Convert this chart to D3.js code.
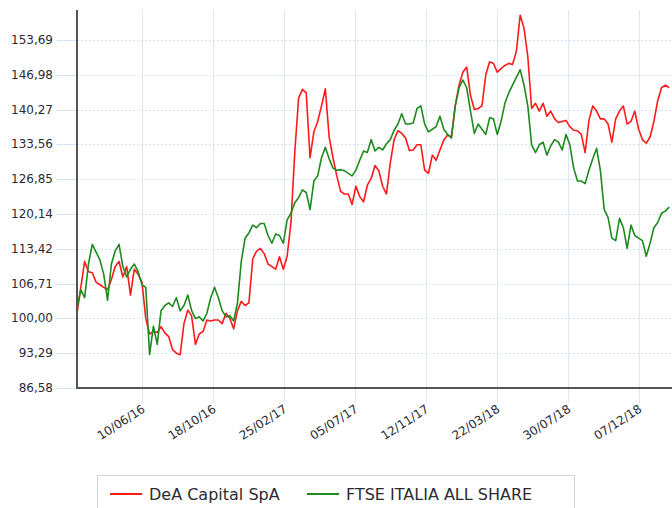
<!DOCTYPE html>
<html>
<head>
<meta charset="utf-8">
<script src="https://cdn.jsdelivr.net/npm/d3@7/dist/d3.min.js"></script>
<style>
  body { margin: 0; background: #fff; }
  svg { font-family: "DejaVu Sans", Verdana, sans-serif; }
  .ylab, .xlab { font-size: 12px; fill: #2b2b33; }
  .legend text { font-size: 16px; fill: #2b2b33; }
</style>
</head>
<body>
<script>
// weekly closes, rebased to 100
var seriesNames = ["DeA Capital SpA", "FTSE ITALIA ALL SHARE"];
var seriesColors = ["#ff1a1a", "#1e8a1e"];

var dea = [
  101, 106, 111, 109, 108.8, 107, 106.5, 106, 105.5, 107.5,
  110, 111, 108, 110, 104.5, 109.5, 108.5, 107, 100, 97,
  97.5, 97.3, 98.4, 97.2, 96.5, 94, 93.3, 93, 99, 101.6,
  100.5, 95, 97, 97.5, 99.7, 99.5, 99.7, 99.7, 99, 101,
  100, 98, 101.5, 103.3, 102.5, 103, 111.5, 113, 113.5, 112.5,
  110.5, 110, 109.5, 111.9, 109.5, 112, 118.5, 132, 142.5, 144.2,
  143.5, 131, 136, 138, 141, 144.3, 135, 131, 127.5, 124.5,
  124, 124, 122, 125.5, 123.5, 122.5, 125.7, 127, 129.5, 128.5,
  125.5, 124, 130, 134.5, 136.2, 135.7, 134.8, 132.4, 132.5, 133.5,
  133.5, 128.6, 128, 131.5, 130.5, 132.5, 134.4, 135.4, 135, 141,
  145, 147.5, 148.5, 143, 140.3, 140.5, 141, 147, 149.5, 149.2,
  147.5, 148.2, 148.8, 149.2, 149, 151.5, 158.5, 156, 150.5, 140.5,
  141.5, 140, 141.5, 139, 140, 138.5, 137.8, 138, 138.2, 137,
  136.3, 136.2, 135.5, 132, 138.2, 141, 140, 138.5, 138.5, 137.5,
  134, 138.5, 140, 141, 137.5, 138, 140, 136.5, 134.5, 133.8,
  135, 138, 142, 144.5, 145, 144.5
];

var ftse = [
  102, 105.5, 104, 110.5, 114.3, 112.8, 111.3, 108.5, 103.5, 110.5,
  113, 114.3, 110, 108, 109.5, 110.5, 109, 106.5, 106, 93,
  98.5, 95, 101.5, 102.5, 103, 102.3, 104, 101.5, 102.5, 104.5,
  101.5, 100, 100.3, 99.5, 101, 104, 106, 104, 101.5, 100.3,
  100.5, 99.5, 103, 111, 115.5, 116.5, 118, 117.5, 118.3, 118.3,
  116, 114.5, 116.3, 116, 114.5, 119, 120.3, 122.3, 123.3, 124.8,
  124.3, 121, 126.5, 127.5, 131, 133, 130.8, 129, 128.6, 128.7,
  128.5, 128, 127.5, 128.6, 130.5, 132.3, 132, 134.5, 132.3, 133,
  132.5, 133.7, 134.5, 136.3, 137.5, 139.5, 137.5, 137.5, 137.7, 140.5,
  141, 137.5, 136, 136.5, 137, 139, 136.5, 135.5, 134.8, 141,
  144.5, 146, 144.5, 140, 135.7, 137.5, 136.5, 135.5, 138.7, 138.5,
  135.5, 138, 141.5, 143.5, 145, 146.5, 148, 145, 141, 133.5,
  132, 133.5, 134, 131.5, 133.3, 134.5, 134, 132.5, 135.5, 133.5,
  129, 126.5, 126.5, 126, 128.6, 130.8, 132.8, 128.5, 121, 119.5,
  115.5, 115, 119.3, 117.5, 113.5, 118, 116, 115.5, 115, 112,
  114.5, 117.5, 118.5, 120.3, 120.7, 121.5
];

var yTicks = [86.58, 93.29, 100.00, 106.71, 113.42, 120.14, 126.85, 133.56, 140.27, 146.98, 153.69];
var xTicks = ["2016-06-10", "2016-10-18", "2017-02-25", "2017-07-05", "2017-11-12", "2018-03-22", "2018-07-30", "2018-12-07"];

var startDate = new Date(2016, 1, 12);
var dates = dea.map(function (d, i) { return d3.timeDay.offset(startDate, i * 7); });

var width = 672, height = 508;
var plot = {left: 77, top: 10, right: 673, bottom: 388};

var svg = d3.select("body").append("svg")
    .attr("width", width)
    .attr("height", height);

var x = d3.scaleTime()
    .domain([startDate, d3.timeDay.offset(startDate, 1092)])
    .range([plot.left, plot.right]);

var y = d3.scaleLinear()
    .domain([86.58, 159.5])
    .range([plot.bottom, plot.top]);

var it = d3.formatLocale({decimal: ",", thousands: ".", grouping: [3], currency: ["", "€"]});
var fmtY = it.format(".2f");
var fmtX = d3.timeFormat("%d/%m/%y");
var parse = d3.timeParse("%Y-%m-%d");

// horizontal grid: solid tick left of axis, dotted inside
svg.append("g").selectAll("line.tk")
    .data(yTicks).enter().append("line")
    .attr("x1", plot.left - 20).attr("x2", plot.left)
    .attr("y1", function (d) { return Math.round(y(d)) + 0.5; })
    .attr("y2", function (d) { return Math.round(y(d)) + 0.5; })
    .attr("stroke", "#d5e3f4");

svg.append("g").selectAll("line.gr")
    .data(yTicks.slice(1)).enter().append("line")
    .attr("x1", plot.left).attr("x2", width)
    .attr("y1", function (d) { return Math.round(y(d)) + 0.5; })
    .attr("y2", function (d) { return Math.round(y(d)) + 0.5; })
    .attr("stroke", "#d5e3f4")
    .attr("stroke-dasharray", "2,2");

// vertical grid
svg.append("g").selectAll("line")
    .data(xTicks).enter().append("line")
    .attr("x1", function (d) { return Math.round(x(parse(d))) + 0.5; })
    .attr("x2", function (d) { return Math.round(x(parse(d))) + 0.5; })
    .attr("y1", plot.top).attr("y2", plot.bottom + 15)
    .attr("stroke", "#dde8f6");

// y labels
svg.append("g").selectAll("text")
    .data(yTicks).enter().append("text")
    .attr("class", "ylab")
    .attr("x", plot.left - 24)
    .attr("y", function (d) { return y(d) + 4; })
    .attr("text-anchor", "end")
    .text(function (d) { return fmtY(d); });

// x labels
svg.append("g").selectAll("text")
    .data(xTicks).enter().append("text")
    .attr("class", "xlab")
    .attr("text-anchor", "end")
    .attr("transform", function (d) {
        return "translate(" + (x(parse(d)) + 4) + "," + (plot.bottom + 23) + ") rotate(-33)";
    })
    .text(function (d) { return fmtX(parse(d)); });

// lines
svg.append("clipPath").attr("id", "clip")
  .append("rect")
    .attr("x", plot.left).attr("y", 0)
    .attr("width", plot.right - plot.left).attr("height", plot.bottom);

var line = d3.line()
    .x(function (d, i) { return x(dates[i]); })
    .y(function (d) { return y(d); });

[dea, ftse].forEach(function (s, k) {
    svg.append("path")
        .datum(s)
        .attr("clip-path", "url(#clip)")
        .attr("fill", "none")
        .attr("stroke", seriesColors[k])
        .attr("stroke-width", 1.6)
        .attr("stroke-linejoin", "round")
        .attr("d", line);
});

// axes lines
svg.append("line")
    .attr("x1", plot.left).attr("x2", plot.left)
    .attr("y1", plot.top).attr("y2", plot.bottom + 1)
    .attr("stroke", "#555").attr("stroke-width", 2);
svg.append("line")
    .attr("x1", plot.left - 1).attr("x2", width)
    .attr("y1", plot.bottom).attr("y2", plot.bottom)
    .attr("stroke", "#555").attr("stroke-width", 2);

// legend
var lg = svg.append("g").attr("class", "legend");
lg.append("rect")
    .attr("x", 97.5).attr("y", 475.5)
    .attr("width", 477).attr("height", 40)
    .attr("fill", "#fff").attr("stroke", "#d4d4d4");

var legendX = [110, 307];
seriesNames.forEach(function (n, k) {
    lg.append("line")
        .attr("x1", legendX[k]).attr("x2", legendX[k] + 32)
        .attr("y1", 494).attr("y2", 494)
        .attr("stroke", seriesColors[k]).attr("stroke-width", 2);
    lg.append("text")
        .attr("x", legendX[k] + 39).attr("y", 499.5)
        .text(n);
});
</script>
</body>
</html>
